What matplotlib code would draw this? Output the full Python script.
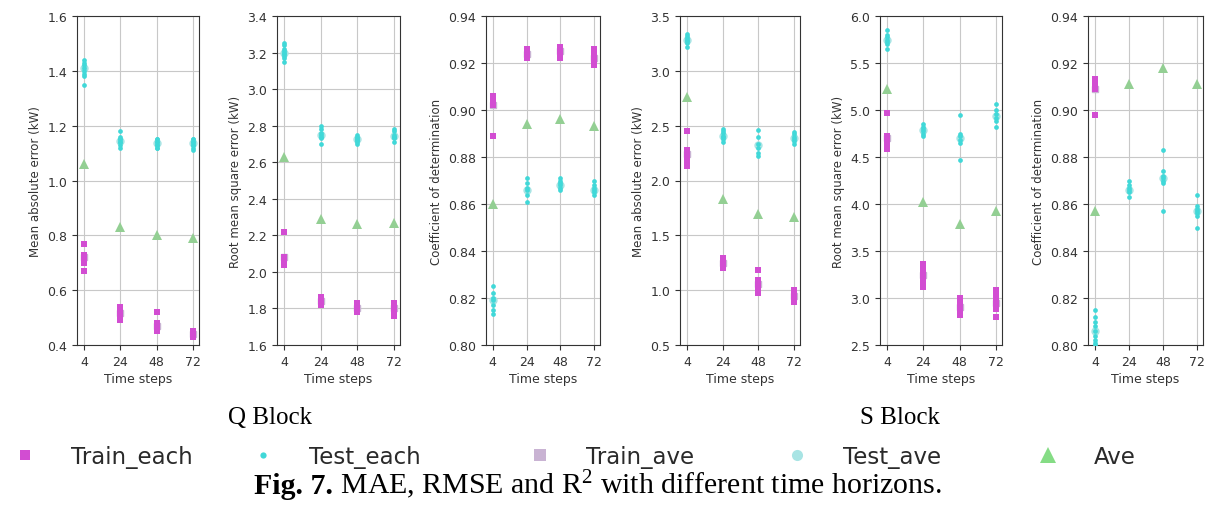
import matplotlib
matplotlib.use("Agg")
import matplotlib.pyplot as plt
from matplotlib.lines import Line2D
import numpy as np

time_steps = ["4", "24", "48", "72"]

# ---------------- Q Block ----------------
q_mae_train = [
    [0.67, 0.70, 0.71, 0.72, 0.73, 0.72, 0.71, 0.77],
    [0.49, 0.50, 0.51, 0.52, 0.53, 0.54, 0.51, 0.52],
    [0.45, 0.46, 0.47, 0.48, 0.46, 0.47, 0.52, 0.45],
    [0.43, 0.44, 0.45, 0.44, 0.45, 0.43, 0.44, 0.45],
]
q_mae_test = [
    [1.35, 1.38, 1.40, 1.41, 1.42, 1.43, 1.44, 1.39],
    [1.12, 1.14, 1.15, 1.13, 1.14, 1.16, 1.18, 1.15],
    [1.12, 1.13, 1.14, 1.15, 1.13, 1.14, 1.12, 1.15],
    [1.11, 1.13, 1.14, 1.15, 1.14, 1.13, 1.12, 1.15],
]
q_mae_train_ave = [0.72, 0.515, 0.47, 0.44]
q_mae_test_ave = [1.41, 1.145, 1.135, 1.135]
q_mae_ave = [1.06, 0.83, 0.80, 0.79]

q_rmse_train = [
    [2.04, 2.05, 2.06, 2.07, 2.08, 2.06, 2.22],
    [1.82, 1.83, 1.84, 1.85, 1.86, 1.84],
    [1.78, 1.79, 1.80, 1.81, 1.82, 1.83],
    [1.76, 1.79, 1.80, 1.81, 1.82, 1.83, 1.80],
]
q_rmse_test = [
    [3.15, 3.17, 3.19, 3.20, 3.21, 3.22, 3.24, 3.25, 3.18],
    [2.70, 2.73, 2.75, 2.76, 2.78, 2.80, 2.74],
    [2.70, 2.71, 2.72, 2.73, 2.74, 2.75, 2.72],
    [2.71, 2.73, 2.74, 2.75, 2.77, 2.78, 2.74],
]
q_rmse_train_ave = [2.08, 1.84, 1.805, 1.80]
q_rmse_test_ave = [3.20, 2.75, 2.725, 2.745]
q_rmse_ave = [2.63, 2.29, 2.26, 2.27]

q_r2_train = [
    [0.889, 0.902, 0.903, 0.904, 0.905, 0.906, 0.903],
    [0.922, 0.923, 0.924, 0.925, 0.926, 0.924],
    [0.922, 0.923, 0.924, 0.925, 0.926, 0.927],
    [0.919, 0.920, 0.921, 0.922, 0.924, 0.926],
]
q_r2_test = [
    [0.813, 0.815, 0.817, 0.819, 0.820, 0.822, 0.825],
    [0.861, 0.864, 0.866, 0.867, 0.869, 0.871],
    [0.866, 0.867, 0.868, 0.869, 0.870, 0.871],
    [0.864, 0.865, 0.866, 0.867, 0.868, 0.870],
]
q_r2_train_ave = [0.902, 0.924, 0.925, 0.922]
q_r2_test_ave = [0.819, 0.866, 0.868, 0.866]
q_r2_ave = [0.860, 0.894, 0.896, 0.893]

# ---------------- S Block ----------------
s_mae_train = [
    [2.13, 2.17, 2.20, 2.23, 2.26, 2.28, 2.45, 2.22],
    [1.20, 1.22, 1.25, 1.27, 1.29, 1.24],
    [0.97, 1.00, 1.03, 1.06, 1.09, 1.18, 1.05],
    [0.89, 0.92, 0.95, 0.97, 1.00, 0.94],
]
s_mae_test = [
    [3.22, 3.25, 3.28, 3.30, 3.32, 3.34, 3.27],
    [2.35, 2.38, 2.41, 2.43, 2.45, 2.47, 2.40],
    [2.22, 2.25, 2.30, 2.33, 2.40, 2.46],
    [2.33, 2.36, 2.38, 2.40, 2.42, 2.44],
]
s_mae_train_ave = [2.24, 1.25, 1.06, 0.95]
s_mae_test_ave = [3.28, 2.41, 2.32, 2.39]
s_mae_ave = [2.76, 1.83, 1.69, 1.67]

s_rmse_train = [
    [4.58, 4.62, 4.65, 4.68, 4.72, 4.97],
    [3.12, 3.16, 3.20, 3.24, 3.28, 3.33, 3.36],
    [2.82, 2.85, 2.88, 2.92, 2.96, 3.00],
    [2.80, 2.88, 2.92, 2.96, 3.00, 3.05, 3.08],
]
s_rmse_test = [
    [5.65, 5.70, 5.75, 5.80, 5.85, 5.78, 5.72],
    [4.72, 4.75, 4.78, 4.82, 4.85, 4.80],
    [4.47, 4.65, 4.68, 4.72, 4.75, 4.95],
    [4.82, 4.88, 4.92, 4.96, 5.00, 5.06],
]
s_rmse_train_ave = [4.70, 3.24, 2.90, 2.95]
s_rmse_test_ave = [5.75, 4.79, 4.70, 4.94]
s_rmse_ave = [5.22, 4.02, 3.79, 3.93]

s_r2_train = [
    [0.898, 0.909, 0.910, 0.911, 0.912, 0.913],
    [0.952, 0.954, 0.956, 0.957, 0.958],
    [0.960, 0.962, 0.964, 0.966, 0.967],
    [0.958, 0.960, 0.962, 0.964, 0.965],
]
s_r2_test = [
    [0.800, 0.802, 0.804, 0.806, 0.808, 0.810, 0.812, 0.815, 0.801],
    [0.863, 0.865, 0.866, 0.867, 0.868, 0.870],
    [0.857, 0.869, 0.870, 0.871, 0.872, 0.874, 0.883],
    [0.850, 0.855, 0.856, 0.857, 0.858, 0.859, 0.864],
]
s_r2_train_ave = [0.909, 0.956, 0.964, 0.962]
s_r2_test_ave = [0.806, 0.866, 0.871, 0.857]
s_r2_ave = [0.857, 0.911, 0.918, 0.911]

panels = [
    (q_mae_train, q_mae_test, q_mae_train_ave, q_mae_test_ave, q_mae_ave,
     "Mean absolute error (kW)", (0.4, 1.6), np.arange(0.4, 1.61, 0.2), "{:.1f}"),
    (q_rmse_train, q_rmse_test, q_rmse_train_ave, q_rmse_test_ave, q_rmse_ave,
     "Root mean square error (kW)", (1.6, 3.4), np.arange(1.6, 3.41, 0.2), "{:.1f}"),
    (q_r2_train, q_r2_test, q_r2_train_ave, q_r2_test_ave, q_r2_ave,
     "Coefficient of determination", (0.80, 0.94), np.arange(0.80, 0.941, 0.02), "{:.2f}"),
    (s_mae_train, s_mae_test, s_mae_train_ave, s_mae_test_ave, s_mae_ave,
     "Mean absolute error (kW)", (0.5, 3.5), np.arange(0.5, 3.51, 0.5), "{:.1f}"),
    (s_rmse_train, s_rmse_test, s_rmse_train_ave, s_rmse_test_ave, s_rmse_ave,
     "Root mean square error (kW)", (2.5, 6.0), np.arange(2.5, 6.01, 0.5), "{:.1f}"),
    (s_r2_train, s_r2_test, s_r2_train_ave, s_r2_test_ave, s_r2_ave,
     "Coefficient of determination", (0.80, 0.94), np.arange(0.80, 0.941, 0.02), "{:.2f}"),
]

plt.rcParams['mathtext.fontset'] = 'custom'
plt.rcParams['mathtext.rm'] = 'Liberation Serif'
plt.rcParams['mathtext.it'] = 'Liberation Serif:italic'
plt.rcParams['mathtext.bf'] = 'Liberation Serif:bold'

W, H = 1208, 506
fig = plt.figure(figsize=(W / 100, H / 100), dpi=100)

lefts = [77, 277, 486, 680, 880, 1088]
rights = [199, 400, 600, 800, 1002, 1203]
top_px, bot_px = 17, 346

c_train = '#d24dd2'
c_test = '#40d8d8'
c_train_ave = '#c9b3d3'
c_test_ave = '#a8e4e4'
c_ave = '#93cf93'
tick_col = '#333333'

for (tr, te, tra, tea, ave, ylabel, ylim, yticks, fmt), l, r in zip(panels, lefts, rights):
    ax = fig.add_axes([l / W, 1 - bot_px / H, (r - l) / W, (bot_px - top_px) / H])
    xs = np.arange(len(time_steps))
    ax.plot(xs, tra, 's', color=c_train_ave, ms=5, zorder=2)
    ax.plot(xs, tea, 'o', color=c_test_ave, ms=5, zorder=2)
    for i in range(len(time_steps)):
        ax.plot([xs[i]] * len(te[i]), te[i], 'o', color=c_test, ms=3.4, zorder=3,
                markeredgewidth=0)
        ax.plot([xs[i]] * len(tr[i]), tr[i], 's', color=c_train, ms=3.8, zorder=3,
                markeredgewidth=0)
    ax.plot(xs, ave, '^', color=c_ave, ms=7, markeredgewidth=0, zorder=4)
    ax.set_xlim(-0.2, 3.17)
    ax.set_ylim(*ylim)
    ax.set_xticks(xs)
    ax.set_xticklabels(time_steps)
    ax.set_yticks(yticks)
    ax.set_yticklabels([fmt.format(v) for v in yticks])
    ax.grid(True, color='#c8c8c8', linewidth=0.8)
    ax.set_axisbelow(True)
    ax.tick_params(labelsize=9, colors=tick_col, length=3.5)
    ax.set_ylabel(ylabel, fontsize=8.5, color=tick_col)
    ax.set_xlabel("Time steps", fontsize=9, color=tick_col, labelpad=3)
    for sp in ax.spines.values():
        sp.set_color('#333333')

# legend: one entry per legend so each marker sits where the reference has it
handles = [
    Line2D([], [], marker='s', ls='none', color=c_train, ms=6.5, markeredgewidth=0),
    Line2D([], [], marker='o', ls='none', color=c_test, ms=4.5, markeredgewidth=0),
    Line2D([], [], marker='s', ls='none', color=c_train_ave, ms=8, markeredgewidth=0),
    Line2D([], [], marker='o', ls='none', color=c_test_ave, ms=8, markeredgewidth=0),
    Line2D([], [], marker='^', ls='none', color='#85dc85', ms=11, markeredgewidth=0),
]
labels = ["Train_each", "Test_each", "Train_ave", "Test_ave", "Ave"]
marker_px = [25, 263, 540, 797, 1048]
leg_fs = 16.5
leg_fs_px = leg_fs * 100 / 72
hl = 1.0
for h, lab, mx in zip(handles, labels, marker_px):
    x_anchor = (mx - 0.5 * hl * leg_fs_px) / W
    fig.legend([h], [lab], loc='center left', bbox_to_anchor=(x_anchor, 1 - 458 / H),
               frameon=False, fontsize=leg_fs, handlelength=hl, handletextpad=1.5,
               labelcolor='#2a2a2a', borderpad=0, borderaxespad=0)

fig.text(270 / W, 1 - 418 / H, "Q Block", family='Liberation Serif', fontsize=18,
         ha='center', va='center')
fig.text(900 / W, 1 - 418 / H, "S Block", family='Liberation Serif', fontsize=18,
         ha='center', va='center')

# caption: bold prefix + regular rest, centred as a whole
cap_size = 21.5
cap_y = 1 - 494 / H
t1 = fig.text(0, cap_y, "Fig. 7.", family='Liberation Serif', fontweight='bold',
              fontsize=cap_size, ha='left', va='baseline')
t2 = fig.text(0, cap_y, r" MAE, RMSE and R$^2$ with different time horizons.",
              family='Liberation Serif', fontsize=cap_size, ha='left', va='baseline')
renderer = fig.canvas.get_renderer()
w1 = t1.get_window_extent(renderer).width
w2 = t2.get_window_extent(renderer).width
x0 = 598 - (w1 + w2) / 2
t1.set_x(x0 / W)
t2.set_x((x0 + w1) / W)

fig.savefig("out.png", dpi=100)
